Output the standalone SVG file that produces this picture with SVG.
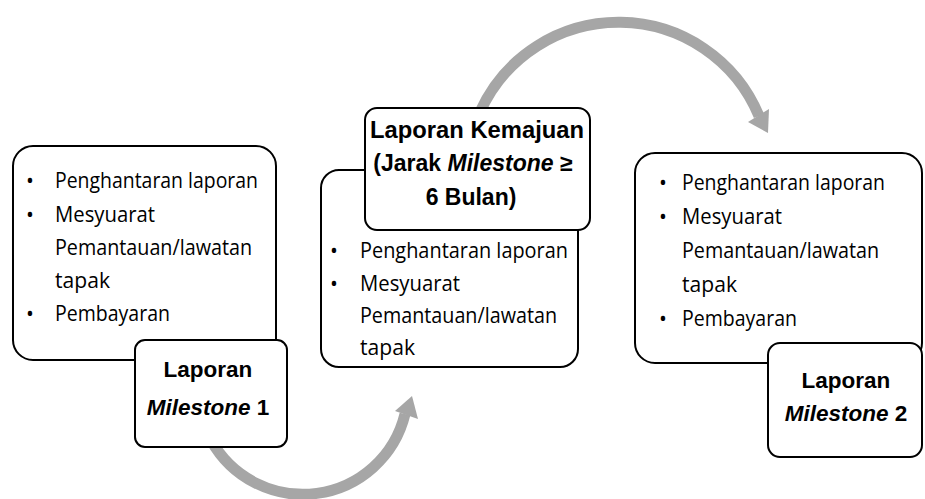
<svg xmlns="http://www.w3.org/2000/svg" width="925" height="499" viewBox="0 0 925 499">
<style>
.box{fill:#fff;stroke:#000;stroke-width:2}
.body{font-family:"Open Sans","Liberation Sans",Arial,sans-serif;font-size:21px;fill:#000}
.head{font-family:"Liberation Sans",Arial,sans-serif;font-size:22.5px;font-weight:bold;fill:#000;text-anchor:middle}
.head2{font-family:"Liberation Sans",Arial,sans-serif;font-size:23px;font-weight:bold;fill:#000;text-anchor:middle}
.arc{fill:none;stroke:#a6a6a6;stroke-width:11}
.ahead{fill:#a6a6a6}
</style>
<rect width="925" height="499" fill="#fff"/>
<g id="connectors">
  <path class="arc" d="M 480,112 A 152 152 0 0 1 759,116"/>
  <polygon class="ahead" points="768,133 748,122 769,109"/>
  <path class="arc" d="M 211,440 A 105 105 0 0 0 405,414"/>
  <polygon class="ahead" points="412,396 395,411 418,419"/>
</g>
<g id="box1">
  <rect class="box" x="13" y="146" width="263" height="214" rx="20"/>
  <text class="body" x="26" y="188">•</text>
  <text class="body" x="55" y="188" textLength="203" lengthAdjust="spacingAndGlyphs">Penghantaran laporan</text>
  <text class="body" x="26" y="222">•</text>
  <text class="body" x="55" y="222" textLength="100" lengthAdjust="spacingAndGlyphs">Mesyuarat</text>
  <text class="body" x="55" y="255" textLength="197" lengthAdjust="spacingAndGlyphs">Pemantauan/lawatan</text>
  <text class="body" x="55" y="288" textLength="55" lengthAdjust="spacingAndGlyphs">tapak</text>
  <text class="body" x="26" y="321">•</text>
  <text class="body" x="55" y="321" textLength="115" lengthAdjust="spacingAndGlyphs">Pembayaran</text>
</g>
<g id="milestone1">
  <rect class="box" x="135" y="340" width="152" height="107" rx="10"/>
  <text class="head" x="208" y="377">Laporan</text>
  <text class="head" x="208" y="415"><tspan font-style="italic">Milestone</tspan> 1</text>
</g>
<g id="box2">
  <rect class="box" x="321" y="170" width="257" height="197" rx="18"/>
  <text class="body" x="330" y="258">•</text>
  <text class="body" x="360" y="258" textLength="208" lengthAdjust="spacingAndGlyphs">Penghantaran laporan</text>
  <text class="body" x="330" y="291">•</text>
  <text class="body" x="360" y="291" textLength="100" lengthAdjust="spacingAndGlyphs">Mesyuarat</text>
  <text class="body" x="360" y="323" textLength="197" lengthAdjust="spacingAndGlyphs">Pemantauan/lawatan</text>
  <text class="body" x="360" y="355" textLength="55" lengthAdjust="spacingAndGlyphs">tapak</text>
</g>
<g id="kemajuan">
  <rect class="box" x="365" y="108" width="225" height="122" rx="12"/>
  <text class="head2" x="477" y="138" textLength="214" lengthAdjust="spacingAndGlyphs">Laporan Kemajuan</text>
  <text class="head2" x="473" y="171">(Jarak <tspan font-style="italic">Milestone</tspan> ≥</text>
  <text class="head2" x="471" y="205">6 Bulan)</text>
</g>
<g id="box3">
  <rect class="box" x="635" y="153" width="287" height="210" rx="20"/>
  <text class="body" x="659" y="190">•</text>
  <text class="body" x="682" y="190" textLength="203" lengthAdjust="spacingAndGlyphs">Penghantaran laporan</text>
  <text class="body" x="659" y="224">•</text>
  <text class="body" x="682" y="224" textLength="100" lengthAdjust="spacingAndGlyphs">Mesyuarat</text>
  <text class="body" x="682" y="258" textLength="197" lengthAdjust="spacingAndGlyphs">Pemantauan/lawatan</text>
  <text class="body" x="682" y="292" textLength="55" lengthAdjust="spacingAndGlyphs">tapak</text>
  <text class="body" x="659" y="326">•</text>
  <text class="body" x="682" y="326" textLength="115" lengthAdjust="spacingAndGlyphs">Pembayaran</text>
</g>
<g id="milestone2">
  <rect class="box" x="768" y="343" width="154" height="114" rx="12"/>
  <text class="head" x="846" y="388">Laporan</text>
  <text class="head" x="846" y="421"><tspan font-style="italic">Milestone</tspan> 2</text>
</g>
</svg>
